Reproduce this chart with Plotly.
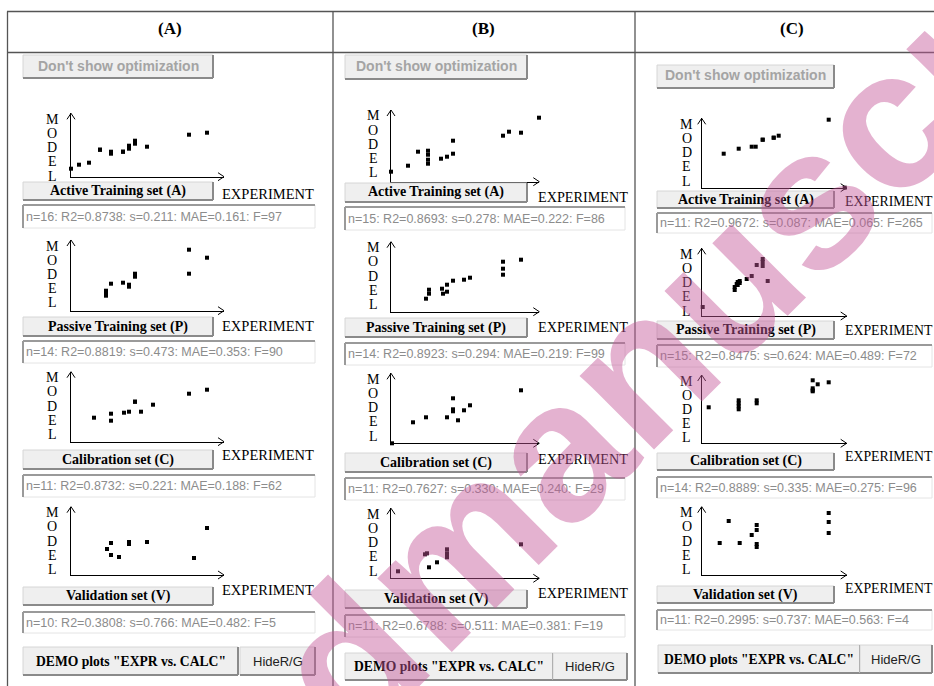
import plotly.graph_objects as go

W, H = 934, 686

# ---------------- data ----------------
column_titles = ["(A)", "(B)", "(C)"]
set_names = ["Active Training set (A)", "Passive Training set (P)",
             "Calibration set (C)", "Validation set (V)"]

a_active_x = [0.0, 0.8, 1.8, 2.9, 2.9, 4.0, 4.0, 5.2, 5.2, 5.8, 5.8, 6.4, 6.4, 7.6, 11.8, 13.6]
a_active_y = [0.8, 1.2, 1.4, 2.7, 2.7, 2.5, 2.3, 2.5, 2.5, 2.8, 3.1, 3.3, 3.6, 3.0, 4.2, 4.4]
a_passive_x = [3.5, 3.5, 3.5, 4.0, 5.2, 5.8, 5.8, 6.4, 6.4, 6.4, 11.8, 11.8, 13.6, 15.4]
a_passive_y = [2.0, 1.7, 1.5, 2.7, 2.8, 2.6, 2.4, 3.7, 3.6, 3.4, 6.1, 3.7, 5.3, 6.9]
a_calib_x = [2.3, 4.0, 4.0, 5.3, 5.8, 6.4, 6.4, 7.0, 8.2, 11.8, 13.6]
a_calib_y = [2.4, 2.8, 2.1, 2.9, 3.0, 4.0, 4.0, 3.0, 3.7, 4.8, 5.2]
a_valid_x = [13.6, 13.6, 4.0, 5.8, 5.8, 7.6, 3.6, 4.0, 4.8, 12.3]
a_valid_y = [7.2, 4.7, 3.2, 3.3, 3.1, 3.3, 2.6, 2.0, 1.8, 1.7]

b_active_x = [0.0, 1.7, 2.7, 3.7, 3.7, 3.7, 3.7, 5.0, 5.6, 6.2, 6.2, 11.2, 11.8, 13.0, 14.8]
b_active_y = [1.0, 1.6, 3.0, 3.1, 2.7, 2.2, 1.8, 2.3, 2.5, 2.8, 4.1, 4.6, 5.0, 4.9, 6.4]
b_passive_x = [3.5, 3.8, 3.8, 5.1, 5.2, 5.6, 5.6, 6.2, 7.3, 7.9, 11.2, 11.2, 11.2, 13.0]
b_passive_y = [1.3, 2.2, 1.8, 2.3, 1.8, 2.7, 2.0, 3.1, 3.2, 3.4, 5.0, 4.3, 3.7, 5.2]
b_calib_x = [0.1, 2.2, 3.5, 5.6, 6.2, 6.2, 6.2, 6.7, 7.3, 7.9, 13.0]
b_calib_y = [0.0, 2.1, 2.6, 2.6, 4.5, 3.4, 3.2, 2.3, 3.3, 3.8, 5.3]
b_valid_x = [0.7, 3.4, 3.6, 3.8, 4.6, 5.6, 5.6, 5.6, 5.6, 13.0, 13.0]
b_valid_y = [0.7, 2.4, 2.5, 1.1, 1.6, 2.9, 2.5, 2.3, 2.1, 7.1, 3.4]

c_active_x = [2.2, 3.7, 5.0, 5.4, 6.1, 6.1, 7.2, 7.2, 7.7, 12.7, 14.3]
c_active_y = [3.4, 3.9, 4.1, 4.1, 4.8, 4.8, 5.0, 5.0, 5.2, 6.8, 0.0]
c_passive_x = [0.1, 3.3, 3.3, 3.5, 3.6, 3.6, 3.8, 3.8, 4.5, 5.0, 5.5, 6.1, 6.1, 6.1, 6.6]
c_passive_y = [0.9, 2.6, 2.9, 3.2, 3.4, 3.1, 3.5, 3.3, 3.7, 4.0, 5.1, 5.7, 5.4, 5.0, 3.5]
c_calib_x = [0.7, 3.7, 3.7, 3.7, 3.7, 5.5, 5.5, 11.1, 11.1, 11.1, 11.1, 11.6, 12.7, 14.5]
c_calib_y = [3.6, 4.3, 4.0, 3.7, 3.4, 4.3, 4.0, 6.3, 5.5, 5.3, 5.2, 5.9, 6.1, 7.0]
c_valid_x = [1.8, 2.7, 3.8, 5.0, 5.5, 5.5, 5.5, 5.5, 12.7, 12.7, 12.7]
c_valid_y = [3.2, 5.4, 3.2, 4.0, 5.0, 4.5, 3.1, 2.8, 6.2, 5.3, 4.2]

stats_A = ["n=16: R2=0.8738: s=0.211: MAE=0.161: F=97",
           "n=14: R2=0.8819: s=0.473: MAE=0.353: F=90",
           "n=11: R2=0.8732: s=0.221: MAE=0.188: F=62",
           "n=10: R2=0.3808: s=0.766: MAE=0.482: F=5"]
stats_B = ["n=15: R2=0.8693: s=0.278: MAE=0.222: F=86",
           "n=14: R2=0.8923: s=0.294: MAE=0.219: F=99",
           "n=11: R2=0.7627: s=0.330: MAE=0.240: F=29",
           "n=11: R2=0.6788: s=0.511: MAE=0.381: F=19"]
stats_C = ["n=11: R2=0.9672: s=0.087: MAE=0.065: F=265",
           "n=15: R2=0.8475: s=0.624: MAE=0.489: F=72",
           "n=14: R2=0.8889: s=0.335: MAE=0.275: F=96",
           "n=11: R2=0.2995: s=0.737: MAE=0.563: F=4"]

button_top = "Don't show optimization"
demo_label = 'DEMO plots "EXPR vs. CALC"'
hide_label = "HideR/G"
axis_x_label = "EXPERIMENT"
axis_y_letters = ["M", "O", "D", "E", "L"]
watermark_words = ["Accepted", "manuscript"]

# ---------------- layout geometry (pixels) ----------------
columns = [
    dict(title_x=170, ox=71, xt=224, model_dx=-19, btn=(23, 213), stats_x1=315, exp_x=222, exp_size=14.5,
         top_btn=(23, 213, 55, 78), demo=(23, 238, 647, 675), hide=(240, 315, 647, 675),
         data=[(a_active_x, a_active_y), (a_passive_x, a_passive_y),
               (a_calib_x, a_calib_y), (a_valid_x, a_valid_y)],
         stats=stats_A,
         rows=[dict(oy=176.7, yt=113.3, btn=(182, 200), exp=194, st=(205, 228)),
               dict(oy=310.7, yt=240.0, btn=(317, 336), exp=326, st=(341, 363)),
               dict(oy=441.7, yt=371.7, btn=(450, 469), exp=455, st=(475, 497)),
               dict(oy=575.0, yt=506.7, btn=(587, 605), exp=590, st=(612, 633))]),
    dict(title_x=483, ox=391, xt=539.3, model_dx=-18, btn=(345, 527), stats_x1=625, exp_x=538, exp_size=14.2,
         top_btn=(345, 527, 55, 79), demo=(345, 553, 653, 680), hide=(553, 627, 653, 680),
         data=[(b_active_x, b_active_y), (b_passive_x, b_passive_y),
               (b_calib_x, b_calib_y), (b_valid_x, b_valid_y)],
         stats=stats_B,
         rows=[dict(oy=181.7, yt=110.0, btn=(183, 202), exp=197, st=(207, 230)),
               dict(oy=311.7, yt=241.7, btn=(318, 337), exp=327, st=(343, 365)),
               dict(oy=443.3, yt=373.3, btn=(453, 472), exp=459, st=(478, 500)),
               dict(oy=578.3, yt=508.3, btn=(590, 608), exp=593, st=(615, 637))]),
    dict(title_x=792, ox=701.7, xt=846.7, model_dx=-15, btn=(657, 834), stats_x1=932, exp_x=845, exp_size=13.8,
         top_btn=(657, 834, 65, 88), demo=(658, 860, 645, 673), hide=(860, 932, 645, 673),
         data=[(c_active_x, c_active_y), (c_passive_x, c_passive_y),
               (c_calib_x, c_calib_y), (c_valid_x, c_valid_y)],
         stats=stats_C,
         rows=[dict(oy=187.7, yt=118.3, btn=(191, 208), exp=202, st=(213, 233)),
               dict(oy=316.0, yt=248.3, btn=(321, 339), exp=330, st=(345, 367)),
               dict(oy=443.3, yt=375.0, btn=(453, 470), exp=457, st=(477, 498)),
               dict(oy=575.0, yt=506.7, btn=(586, 603), exp=588, st=(610, 630))]),
]
watermark_centers = [(75, 933), (770, 236)]


def X(px):
    return px / W


def Y(py):
    return 1 - py / H


shapes = []
annotations = []


def line(x0, y0, x1, y1, color="#555555", width=1.0):
    shapes.append(dict(type="line", xref="paper", yref="paper",
                       x0=X(x0), y0=Y(y0), x1=X(x1), y1=Y(y1),
                       line=dict(color=color, width=width)))


def rect(x0, y0, x1, y1, fill, color=None, width=0):
    shapes.append(dict(type="rect", xref="paper", yref="paper",
                       x0=X(x0), y0=Y(y0), x1=X(x1), y1=Y(y1),
                       fillcolor=fill, line=dict(color=color or fill, width=width)))


def path(pts, color="black", width=1.0):
    d = "M " + " L ".join(f"{X(a):.5f},{Y(b):.5f}" for a, b in pts)
    shapes.append(dict(type="path", xref="paper", yref="paper", path=d,
                       line=dict(color=color, width=width)))


def text(t, px, py, size, color="black", family="Liberation Serif", xanchor="left"):
    annotations.append(dict(text=t, x=X(px), y=Y(py), xref="paper", yref="paper",
                            xanchor=xanchor, yanchor="middle", showarrow=False,
                            borderpad=0, borderwidth=0,
                            font=dict(size=size, color=color, family=family)))


def button(x0, x1, y0, y1):
    rect(x0, y0, x1, y1, "#efefef", "#d6d6d6", 1)
    line(x0, y1, x1, y1, "#8a8a8a", 2)
    line(x1, y0, x1, y1, "#8a8a8a", 2)


def statbox(x0, x1, y0, y1):
    rect(x0, y0, x1, y1, "#ffffff", "#e4e4e4", 1)
    line(x0, y0, x1, y0, "#9a9a9a", 2)
    line(x0, y0, x0, y1, "#9a9a9a", 2)


# table frame
line(7, 11.5, W, 11.5, "#555555", 1.3)
line(7, 52.5, W, 52.5, "#555555", 1.3)
for xv in (7.5, 333, 635):
    line(xv, 11.5, xv, H, "#555555", 1.3)

fig = go.Figure()
layout_axes = {}
k = 0
for ci, col in enumerate(columns):
    text("<b>" + column_titles[ci] + "</b>", col["title_x"], 28, 17, xanchor="center")
    tx0, tx1, ty0, ty1 = col["top_btn"]
    button(tx0, tx1, ty0, ty1)
    text("<b>" + button_top + "</b>", (tx0 + tx1) / 2, (ty0 + ty1) / 2 - 1, 14,
         "#a4a4a4", "Liberation Sans", "center")
    ox, xt = col["ox"], col["xt"]
    for ri, row in enumerate(col["rows"]):
        k += 1
        oy, yt = row["oy"], row["yt"]
        xs, ys = col["data"][ri]
        xn = "x" if k == 1 else f"x{k}"
        yn = "y" if k == 1 else f"y{k}"
        fig.add_trace(go.Scatter(x=xs, y=ys, mode="markers", xaxis=xn, yaxis=yn,
                                 marker=dict(symbol="square", size=4, color="black",
                                             line=dict(width=0)),
                                 cliponaxis=False, showlegend=False, hoverinfo="skip"))
        common = dict(showgrid=False, zeroline=False, showticklabels=False, ticks="",
                      showline=True, linecolor="black", linewidth=1, fixedrange=True)
        layout_axes["xaxis" if k == 1 else f"xaxis{k}"] = dict(
            domain=[X(ox), X(xt)], range=[0, (xt - ox) / 10],
            anchor=yn, **common)
        layout_axes["yaxis" if k == 1 else f"yaxis{k}"] = dict(
            domain=[Y(oy), Y(yt)], range=[0, (oy - yt) / 10],
            anchor=xn, **common)
        # arrow heads
        path([(ox - 4, yt + 6), (ox, yt), (ox + 4, yt + 6)])
        path([(xt - 6, oy - 4), (xt, oy), (xt - 6, oy + 4)])
        # MODEL letters
        for li, ch in enumerate(axis_y_letters):
            text(ch, ox + col["model_dx"], yt + 6 + li * 14.2, 14, xanchor="center")
        # set button
        bx0, bx1 = col["btn"]
        by0, by1 = row["btn"]
        button(bx0, bx1, by0, by1)
        text("<b>" + set_names[ri] + "</b>", (bx0 + bx1) / 2, (by0 + by1) / 2, 14,
             xanchor="center")
        text(axis_x_label, col["exp_x"], row["exp"], col["exp_size"])
        sy0, sy1 = row["st"]
        statbox(bx0, col["stats_x1"], sy0, sy1)
        text(col["stats"][ri], bx0 + 3, (sy0 + sy1) / 2, 12.5, "#8c8c8c", "Liberation Sans")
    dx0, dx1, dy0, dy1 = col["demo"]
    button(dx0, dx1, dy0, dy1)
    text("<b>" + demo_label + "</b>", (dx0 + dx1) / 2, (dy0 + dy1) / 2, 13.6, xanchor="center")
    hx0, hx1, hy0, hy1 = col["hide"]
    button(hx0, hx1, hy0, hy1)
    text(hide_label, (hx0 + hx1) / 2, (hy0 + hy1) / 2, 13, "#222222", "Liberation Sans", "center")

# watermark
for word, (cx, cy) in zip(watermark_words, watermark_centers):
    annotations.append(dict(text="<b>" + word + "</b>", x=X(cx), y=Y(cy),
                            xref="paper", yref="paper", xanchor="center", yanchor="middle",
                            showarrow=False, textangle=-45,
                            font=dict(size=198, color="rgba(196,87,152,0.46)",
                                      family="Liberation Sans")))

fig.update_layout(width=W, height=H, margin=dict(l=0, r=0, t=0, b=0),
                  paper_bgcolor="white", plot_bgcolor="rgba(0,0,0,0)",
                  shapes=shapes, annotations=annotations, showlegend=False,
                  **layout_axes)
fig.write_html("out.html", config={"displayModeBar": False},
               post_script="document.body.style.margin='0';document.body.style.overflow='hidden';")
